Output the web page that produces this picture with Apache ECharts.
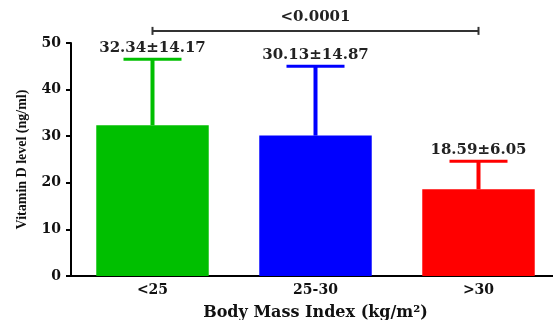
<!DOCTYPE html>
<html><head><meta charset="utf-8">
<script src="https://cdn.jsdelivr.net/npm/echarts@6/dist/echarts.min.js"></script>
<style>html,body{margin:0;padding:0;background:#fff}#c{width:553px;height:320px}</style>
</head><body><div id="c"></div>
<script>
const categories = ['<25', '25-30', '>30'];
const means = [32.34, 30.13, 18.59];
const sds = [14.17, 14.87, 6.05];
const barColors = ['#00BF00', '#0000FF', '#FF0000'];
const yTicks = [0, 10, 20, 30, 40, 50];
const pValueText = '<0.0001';
const pBracketLevel = 52.6;
const pBracketFrom = 0, pBracketTo = 2;

const valueLabels = means.map((m, i) => m.toFixed(2) + '±' + sds[i].toFixed(2));
const serif = '"DejaVu Serif", "Liberation Serif", serif';

const chart = echarts.init(document.getElementById('c'));
chart.setOption({
  animation: false,
  grid: { left: 71, right: -7, top: 43, bottom: 44, outerBoundsMode: 'none', containLabel: false },
  xAxis: {
    type: 'category', data: categories,
    axisLine: { lineStyle: { color: '#000', width: 2 } },
    axisTick: { alignWithLabel: true, length: 5, lineStyle: { color: '#000', width: 2 } },
    axisLabel: { color: '#111', fontFamily: serif, fontWeight: 'bold', fontSize: 14, margin: 7 },
    name: 'Body Mass Index (kg/m²)', nameLocation: 'middle', nameGap: 29,
    nameTextStyle: { color: '#111', fontFamily: serif, fontWeight: 'bold', fontSize: 16 }
  },
  yAxis: {
    type: 'value', min: yTicks[0], max: yTicks[yTicks.length - 1], interval: 10,
    splitLine: { show: false },
    axisLine: { show: true, lineStyle: { color: '#000', width: 2 } },
    axisTick: { show: true, length: 5, lineStyle: { color: '#000', width: 2 } },
    axisLabel: { color: '#111', fontFamily: serif, fontWeight: 'bold', fontSize: 14, margin: 10 },
    name: 'Vitamin D level (ng/ml)', nameLocation: 'middle', nameGap: 42, nameRotate: 90,
    nameTextStyle: { color: '#111', fontFamily: '"Liberation Serif", serif', fontWeight: 'bold', fontSize: 14 }
  },
  series: [
    {
      type: 'bar', barWidth: '69%',
      data: means.map((v, i) => ({ value: v, itemStyle: { color: barColors[i] } }))
    },
    {
      type: 'custom', clip: false,
      data: means.map((m, i) => [i, m, m + sds[i]]),
      renderItem: function (params, api) {
        const i = api.value(0);
        const lo = api.coord([i, api.value(1)]);
        const hi = api.coord([i, api.value(2)]);
        const half = 29;
        const col = barColors[i];
        return {
          type: 'group',
          children: [
            { type: 'line', shape: { x1: lo[0], y1: lo[1], x2: hi[0], y2: hi[1] }, style: { stroke: col, lineWidth: 4 } },
            { type: 'line', shape: { x1: hi[0] - half, y1: hi[1], x2: hi[0] + half, y2: hi[1] }, style: { stroke: col, lineWidth: 3 } },
            { type: 'text', x: hi[0], y: hi[1] - 4, style: { text: valueLabels[i], fill: '#222', font: 'bold 15px ' + serif, textAlign: 'center', textVerticalAlign: 'bottom' } }
          ]
        };
      }
    },
    {
      type: 'custom', clip: false,
      data: [[pBracketFrom, pBracketTo, pBracketLevel]],
      renderItem: function (params, api) {
        const a = api.coord([api.value(0), api.value(2)]);
        const b = api.coord([api.value(1), api.value(2)]);
        const st = { stroke: '#333', lineWidth: 2 };
        return {
          type: 'group',
          children: [
            { type: 'line', shape: { x1: a[0], y1: a[1], x2: b[0], y2: b[1] }, style: st },
            { type: 'line', shape: { x1: a[0], y1: a[1] - 4, x2: a[0], y2: a[1] + 4 }, style: st },
            { type: 'line', shape: { x1: b[0], y1: b[1] - 4, x2: b[0], y2: b[1] + 4 }, style: st },
            { type: 'text', x: (a[0] + b[0]) / 2, y: a[1] - 6, style: { text: pValueText, fill: '#222', font: 'bold 15px ' + serif, textAlign: 'center', textVerticalAlign: 'bottom' } }
          ]
        };
      }
    }
  ]
});
</script></body></html>
